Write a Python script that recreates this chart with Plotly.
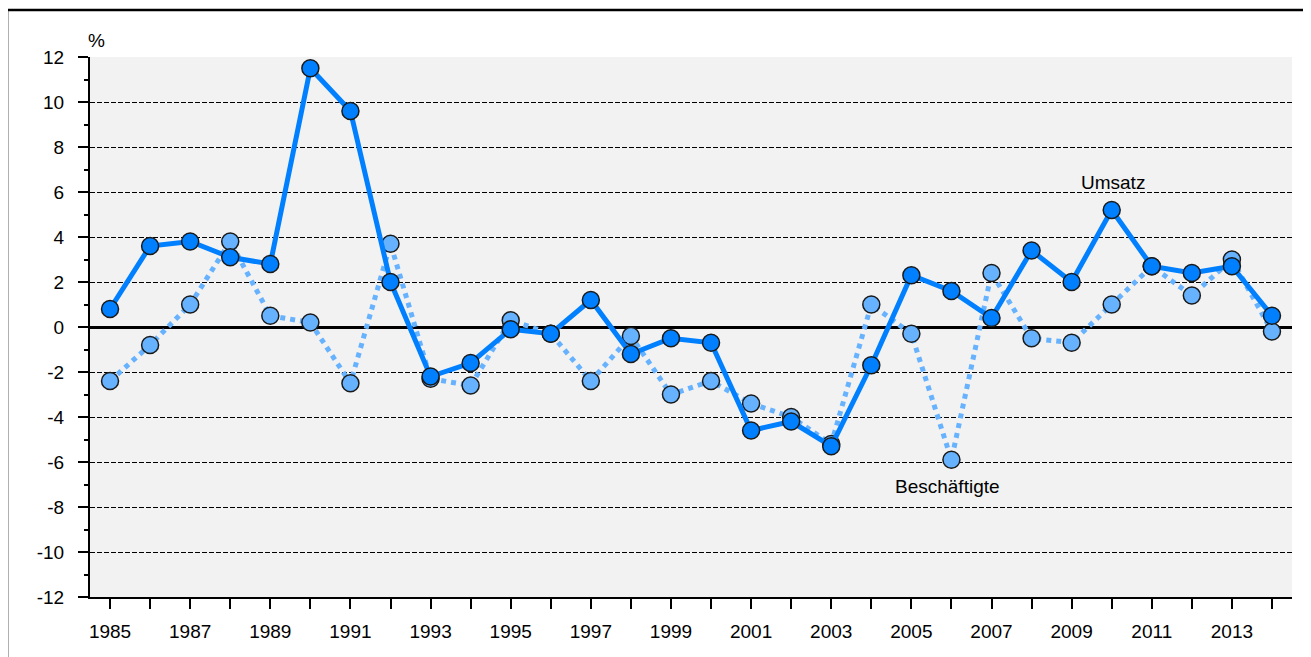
import plotly.graph_objects as go

years = list(range(1985, 2015))
umsatz = [0.8, 3.6, 3.8, 3.1, 2.8, 11.5, 9.6, 2.0, -2.2, -1.6,
          -0.1, -0.3, 1.2, -1.2, -0.5, -0.7, -4.6, -4.2, -5.3, -1.7,
          2.3, 1.6, 0.4, 3.4, 2.0, 5.2, 2.7, 2.4, 2.7, 0.5]
beschaeftigte = [-2.4, -0.8, 1.0, 3.8, 0.5, 0.2, -2.5, 3.7, -2.3, -2.6,
                 0.3, -0.3, -2.4, -0.4, -3.0, -2.4, -3.4, -4.0, -5.2, 1.0,
                 -0.3, -5.9, 2.4, -0.5, -0.7, 1.0, 2.7, 1.4, 3.0, -0.2]
x_ticktext = [str(y) if y % 2 == 1 else "" for y in years]
y_tickvals = list(range(-12, 13, 2))
y_ticktext = [str(v) for v in y_tickvals]

FONT = "Liberation Sans, Arial, sans-serif"

fig = go.Figure()
fig.add_trace(go.Scatter(
    x=years, y=beschaeftigte, mode="lines+markers", name="Beschäftigte",
    line=dict(color="#66B2FF", width=5, dash="dot"),
    marker=dict(size=17, color="#66B2FF", line=dict(color="#1a1a1a", width=1.5)),
))
fig.add_trace(go.Scatter(
    x=years, y=umsatz, mode="lines+markers", name="Umsatz",
    line=dict(color="#0080FF", width=5),
    marker=dict(size=17, color="#0080FF", line=dict(color="#1a1a1a", width=1.5)),
))

fig.update_layout(
    width=1303, height=649,
    margin=dict(l=82, r=19, t=49, b=60),
    paper_bgcolor="white", plot_bgcolor="#F2F2F2",
    showlegend=False,
    font=dict(family=FONT, size=19, color="black"),
    xaxis=dict(
        range=[1984.5, 2014.5], tickvals=years, ticktext=x_ticktext,
        ticks="outside", ticklen=10, tickwidth=2, tickcolor="black",
        showgrid=False, zeroline=False, showline=True, linecolor="black", linewidth=2,
        ticklabelstandoff=6,
    ),
    yaxis=dict(
        range=[-12, 12], tickvals=y_tickvals, ticktext=y_ticktext,
        ticks="outside", ticklen=10, tickwidth=2, tickcolor="black",
        minor=dict(ticks="outside", ticklen=4, tickwidth=2, tickcolor="black", dtick=1, showgrid=False),
        showgrid=True, gridcolor="black", gridwidth=1, griddash="5px,2px",
        zeroline=True, zerolinecolor="black", zerolinewidth=2.5,
        showline=True, linecolor="black", linewidth=2,
        ticklabelstandoff=10,
    ),
    annotations=[
        dict(text="%", xref="paper", yref="paper", x=-0.003, y=1.031,
             showarrow=False, xanchor="left", yanchor="middle"),
        dict(text="Umsatz", x=2010.03, y=6.44, showarrow=False,
             xanchor="center", yanchor="middle"),
        dict(text="Beschäftigte", x=2005.89, y=-7.11, showarrow=False,
             xanchor="center", yanchor="middle"),
    ],
    shapes=[
        dict(type="line", xref="paper", yref="paper", x0=-0.069, x1=-0.069, y0=1.087, y1=-0.2,
             line=dict(color="black", width=2.5)),
        dict(type="line", xref="paper", yref="paper", x0=-0.069, x1=1.1, y0=1.087, y1=1.087,
             line=dict(color="black", width=2.5)),
    ],
)

fig.write_html("out.html")
